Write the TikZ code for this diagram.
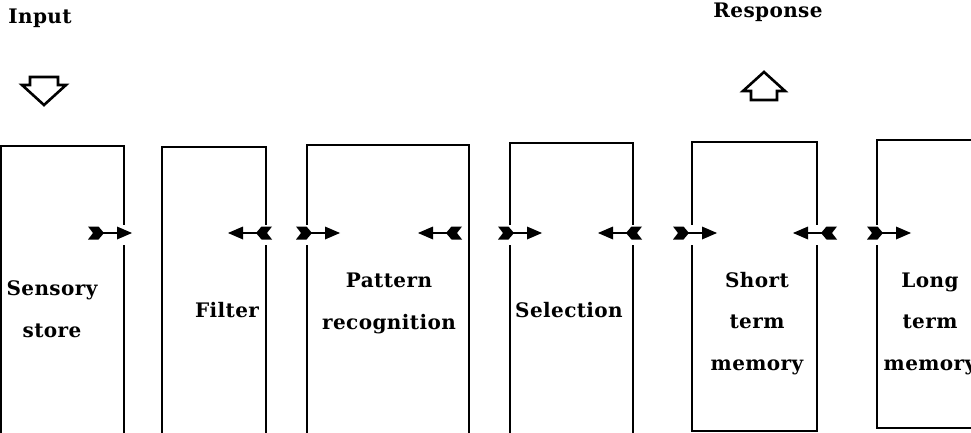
\documentclass[tikz,border=0pt]{standalone}
\usepackage{fontspec}
\newfontfamily\labfont[LetterSpace=2]{DejaVu Serif}
\begin{document}
\begin{tikzpicture}[x=1pt,y=-1pt,
  boxline/.style={line width=1.3pt, line cap=rect},
  lab/.style={anchor=base, align=center, inner sep=0pt,
    font={\labfont\bfseries\fontsize{20}{41.5}\selectfont}},
  bigarrow/.style={line width=2.6pt, line join=miter, fill=white},
  rarr/.pic={
    \fill (0,-6.5) -- (10.5,-6.5) -- (16,0) -- (10.5,6.5) -- (0,6.5) -- (5,0) -- cycle;
    \draw[line width=2.8pt] (14,0) -- (32,0);
    \fill (29,-6.5) -- (44,0) -- (29,6.5) -- cycle;
  },
  larr/.pic={
    \begin{scope}[xscale=-1]
    \fill (0,-6.5) -- (10.5,-6.5) -- (16,0) -- (10.5,6.5) -- (0,6.5) -- (5,0) -- cycle;
    \draw[line width=2.8pt] (14,0) -- (32,0);
    \fill (29,-6.5) -- (44,0) -- (29,6.5) -- cycle;
    \end{scope}
  }]
\useasboundingbox (0,0) rectangle (971,433);
\def\gt{224}\def\gb{246}
% Box 1: Sensory store
\draw[boxline] (1,433) -- (1,146) -- (124,146) -- (124,\gt);
\draw[boxline] (124,\gb) -- (124,433);
% Box 2: Filter
\draw[boxline] (162,433) -- (162,147) -- (266,147) -- (266,\gt);
\draw[boxline] (266,\gb) -- (266,433);
% Box 3: Pattern recognition
\draw[boxline] (307,\gt) -- (307,145) -- (469,145) -- (469,433);
\draw[boxline] (307,\gb) -- (307,433);
% Box 4: Selection
\draw[boxline] (510,\gt) -- (510,143) -- (633,143) -- (633,\gt);
\draw[boxline] (510,\gb) -- (510,433);
\draw[boxline] (633,\gb) -- (633,433);
% Box 5: Short term memory
\draw[boxline] (692,\gt) -- (692,142) -- (817,142) -- (817,\gt);
\draw[boxline] (692,\gb) -- (692,431) -- (817,431) -- (817,\gb);
% Box 6: Long term memory
\draw[boxline] (975,140) -- (877,140) -- (877,\gt);
\draw[boxline] (877,\gb) -- (877,428) -- (975,428);

% labels (anchor = baseline of last line)
\node[lab] (ss) at (52,337) {Sensory\\store};
\node[lab] (fi) at (227,317) {Filter};
\node[lab] (pr) at (389,329) {Pattern\\recognition};
\node[lab] (se) at (569,317) {Selection};
\node[lab] (stm) at (757,370) {Short\\term\\memory};
\node[lab] (ltm) at (930,370) {Long\\term\\memory};
\node[lab] (in) at (40,24) {Input};
\node[lab] (re) at (768,18) {Response};

% hollow arrows
\draw[bigarrow] (30,77) -- (58,77) -- (58,85) -- (66,85) -- (44,105) -- (22,85) -- (30,85) -- cycle;
\draw[bigarrow] (751,100) -- (777,100) -- (777,91) -- (785,91) -- (764,72) -- (743,91) -- (751,91) -- cycle;

% small arrows
\coordinate (a1) at (88,233);
\coordinate (a2) at (272,233);
\coordinate (a3) at (296,233);
\coordinate (a4) at (462,233);
\coordinate (a5) at (498,233);
\coordinate (a6) at (642,233);
\coordinate (a7) at (673,233);
\coordinate (a8) at (837,233);
\coordinate (a9) at (867,233);
\pic at (a1) {rarr};
\pic at (a2) {larr};
\pic at (a3) {rarr};
\pic at (a4) {larr};
\pic at (a5) {rarr};
\pic at (a6) {larr};
\pic at (a7) {rarr};
\pic at (a8) {larr};
\pic at (a9) {rarr};
\end{tikzpicture}
\end{document}
